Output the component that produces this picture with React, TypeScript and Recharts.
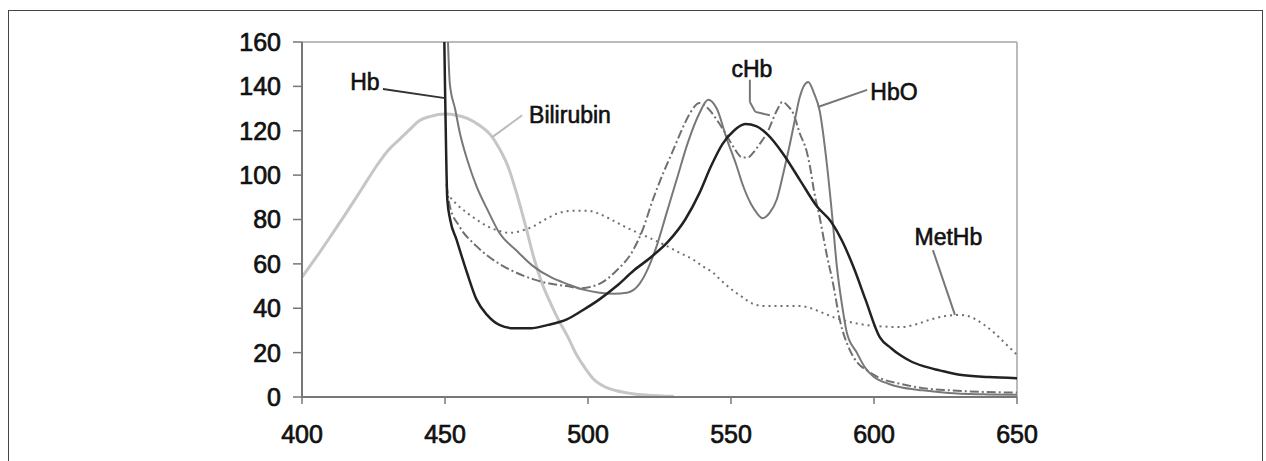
import React from 'react';
import { LineChart, Line, XAxis, YAxis, ReferenceLine, ReferenceDot } from 'recharts';

// wavelength (nm) / absorbance pairs
const bilirubinNm = [400, 405, 410.8, 416, 421, 426, 430, 434, 438, 441, 445, 450, 454, 458, 462, 466, 469, 472, 475, 478, 481, 484, 487, 490, 493, 496, 499, 502, 506, 510, 515, 521, 530];
const bilirubinVal = [54, 63, 74, 84, 94, 104, 111, 116, 121, 124.5, 126.5, 127.5, 127, 125.5, 122.5, 118, 112, 104, 92, 78, 63, 51, 42, 34, 27, 19, 13, 8, 4.5, 2.8, 1.6, 0.8, 0.3];

const hbNm = [449.6, 450, 450.4, 450.8, 451.8, 454, 457.7, 461, 464.7, 469, 474, 480, 486, 492.6, 498, 504, 510, 516, 522, 528, 534, 539, 543, 547, 551, 555, 559, 563, 568, 574, 580, 585, 589, 593, 597, 602, 606, 609, 613, 617, 623, 630, 640, 650];
const hbVal = [175, 140, 110, 89, 80, 71, 56, 44, 37, 32.5, 31, 31, 32.5, 35, 39, 44, 50, 57, 63, 70, 80, 92, 104, 114, 120, 123, 122, 118, 110, 98, 86, 79, 70, 58, 44, 27, 22, 19, 16, 14, 12, 10, 9, 8.5];

const hboNm = [450.8, 451.7, 453.5, 455.2, 458, 461, 465, 469, 475, 480.8, 487, 492.6, 498, 504, 509, 513.6, 518, 521, 524, 527.5, 531, 535, 539, 542, 545, 548.6, 552, 554, 557, 559, 561, 563.5, 566, 568.5, 570.6, 572.5, 574, 577, 579, 581, 583.6, 585.5, 587, 589, 590.5, 594, 597, 600, 605, 609, 617, 626, 638, 650];
const hboVal = [170, 141, 130, 119, 106, 95, 84, 74, 66, 59, 54, 51, 48.5, 47, 46.5, 47, 51, 58, 68, 83, 98, 115, 128, 134, 130, 116, 104, 96, 87, 83, 80.6, 83, 89, 102, 114, 126, 135, 142, 137, 129, 104, 80, 59, 40, 29, 20, 13, 9, 6, 4.5, 3, 1.8, 1.2, 1];

const chbNm = [450.5, 451.7, 455, 461, 469, 475, 481, 487, 492.6, 497, 504, 510, 515.7, 519, 522.7, 526, 529.7, 533, 535.7, 539, 542, 545, 548, 550.7, 554, 556, 557.7, 560, 562.6, 566, 568, 570, 571.7, 574, 576.6, 577.6, 579, 581, 583.5, 585.7, 588, 591.6, 594.5, 597.5, 603, 609, 617, 626.6, 638, 650];
const chbVal = [96, 86, 77, 68, 60, 56, 53, 51, 50, 49, 51, 57, 66, 75, 89, 100, 111, 121, 128, 132.5, 130, 125, 119, 113, 108, 108, 110, 114, 119, 129, 133, 131, 128, 119, 110, 104, 93, 81, 64, 51, 35, 21, 15, 12, 8, 6, 4, 3, 2.3, 2];

const methbNm = [450.5, 454, 457.7, 461, 464.7, 468.5, 472.7, 477, 481, 485, 490, 495, 499.6, 503, 506.6, 511, 515.7, 521, 527.6, 532, 536.7, 540, 543.7, 547, 550.7, 554, 557.7, 562, 568, 574, 578, 581, 585.7, 591, 597.5, 603, 609, 614, 620, 625, 630, 634, 638, 642, 646, 650];
const methbVal = [92, 87, 83, 80, 77, 75, 74, 75, 77, 80, 83, 84, 84, 83, 81, 78, 75, 72, 68, 65, 62, 59, 56, 52, 48, 45, 42, 41, 41, 41, 40, 38.5, 36, 34, 32.4, 31.8, 31.5, 32.5, 35, 36.5, 37, 36, 33, 29, 24, 19];

const xTicks = [400, 450, 500, 550, 600, 650];
const yTicks = [0, 20, 40, 60, 80, 100, 120, 140, 160];

// curve labels: text, text anchor point, leader line points (nm, value)
const labels = [
  { text: 'Hb', at: [422, 142], leader: [[428.3, 138.8], [450, 134.7]] },
  { text: 'Bilirubin', at: [493.7, 127], leader: [[477, 127], [466.4, 117]] },
  { text: 'cHb', at: [557.3, 148], leader: [[556.6, 143], [556.6, 133], [558.5, 128.5], [563.6, 127]] },
  { text: 'HbO', at: [607, 137.5], leader: [[597.6, 138.4], [580.4, 130.7]] },
  { text: 'MetHb', at: [626, 72], leader: [[620.6, 66.2], [628.3, 37]] },
];

const zip = (xs: number[], ys: number[]) => xs.map((x, i) => ({ x, y: ys[i] }));

const FONT = 'Arial, "Liberation Sans", sans-serif';

export default function App() {
  const tickStyle = { fill: '#111', fontSize: 25, fontFamily: FONT, stroke: '#111', strokeWidth: 0.7 };

  return (
    <div style={{ position: 'absolute', left: 0, top: 0, width: 1266, height: 461, background: '#fff', overflow: 'hidden' }}>
      <div
        style={{
          position: 'absolute',
          left: 8,
          top: 10,
          width: 1255,
          height: 470,
          border: '1.5px solid #444',
          boxSizing: 'border-box',
        }}
      />
      <div style={{ position: 'absolute', left: 0, top: 0 }}>
        <LineChart width={1266} height={461} margin={{ top: 42, right: 249, bottom: 0, left: 242 }}>
          <XAxis
            type="number"
            dataKey="x"
            domain={[400, 650]}
            ticks={xTicks}
            height={64}
            tickSize={7}
            tickMargin={21}
            axisLine={{ stroke: '#777', strokeWidth: 2 }}
            tickLine={{ stroke: '#777', strokeWidth: 1.5 }}
            tick={tickStyle}
          />
          <YAxis
            type="number"
            domain={[0, 160]}
            ticks={yTicks}
            allowDataOverflow
            width={60}
            tickSize={9}
            tickMargin={12}
            axisLine={{ stroke: '#777', strokeWidth: 2 }}
            tickLine={{ stroke: '#777', strokeWidth: 1.5 }}
            tick={tickStyle}
          />
          {/* light frame on top and right of the plot */}
          <ReferenceLine y={160} stroke="#bbb" strokeWidth={2} />
          <ReferenceLine x={650} stroke="#bbb" strokeWidth={2} />

          <Line data={zip(bilirubinNm, bilirubinVal)} dataKey="y" type="monotone" stroke="#c6c6c6" strokeWidth={3} dot={false} isAnimationActive={false} />
          <Line data={zip(methbNm, methbVal)} dataKey="y" type="monotone" stroke="#707070" strokeWidth={2} strokeDasharray="2 4" dot={false} isAnimationActive={false} />
          <Line data={zip(chbNm, chbVal)} dataKey="y" type="monotone" stroke="#707070" strokeWidth={2} strokeDasharray="9 3 2 3" dot={false} isAnimationActive={false} />
          <Line data={zip(hboNm, hboVal)} dataKey="y" type="monotone" stroke="#787878" strokeWidth={2} dot={false} isAnimationActive={false} />
          <Line data={zip(hbNm, hbVal)} dataKey="y" type="monotone" stroke="#222" strokeWidth={2.5} dot={false} isAnimationActive={false} />

          {labels.map((l) =>
            l.leader.slice(1).map((p, i) => (
              <ReferenceLine
                key={`${l.text}-seg-${i}`}
                segment={[
                  { x: l.leader[i][0], y: l.leader[i][1] },
                  { x: p[0], y: p[1] },
                ]}
                stroke={l.text === 'Bilirubin' ? '#bbb' : l.text === 'Hb' ? '#333' : '#777'}
                strokeWidth={2}
              />
            ))
          )}
          {labels.map((l) => (
            <ReferenceDot
              key={`${l.text}-text`}
              x={l.at[0]}
              y={l.at[1]}
              r={0}
              shape={(props: any) => (
                <text
                  x={props.cx}
                  y={props.cy}
                  textAnchor="middle"
                  dominantBaseline="central"
                  fontFamily={FONT}
                  fontSize={23}
                  fill="#111"
                  stroke="#111"
                  strokeWidth={0.6}
                >
                  {l.text}
                </text>
              )}
            />
          ))}
        </LineChart>
      </div>
    </div>
  );
}
